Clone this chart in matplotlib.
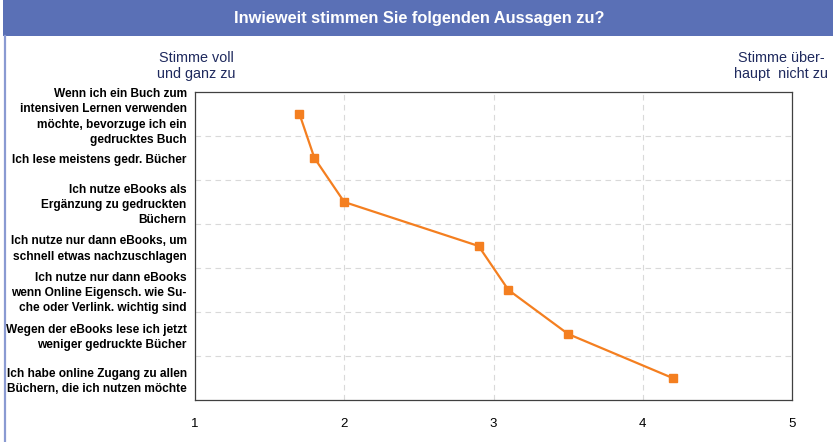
import matplotlib
matplotlib.use("Agg")
import matplotlib.pyplot as plt
from matplotlib.patches import Rectangle
from matplotlib.lines import Line2D

plt.rcParams['font.family'] = ['Liberation Sans', 'DejaVu Sans']

# statements (top to bottom) and mean answers
statements = [
    "Wenn ich ein Buch zum\nintensiven Lernen verwenden\nmöchte, bevorzuge ich ein\ngedrucktes Buch",
    "Ich lese meistens gedr. Bücher",
    "Ich nutze eBooks als\nErgänzung zu gedruckten\nBüchern",
    "Ich nutze nur dann eBooks, um\nschnell etwas nachzuschlagen",
    "Ich nutze nur dann eBooks\nwenn Online Eigensch. wie Su-\nche oder Verlink. wichtig sind",
    "Wegen der eBooks lese ich jetzt\nweniger gedruckte Bücher",
    "Ich habe online Zugang zu allen\nBüchern, die ich nutzen möchte",
]
means = [1.7, 1.8, 2.0, 2.9, 3.1, 3.5, 4.2]
x_ticks = [1, 2, 3, 4, 5]

W, H = 833, 442
fig = plt.figure(figsize=(W / 100, H / 100), dpi=100)

# title bar + left border
fig.patches.append(Rectangle((3 / W, 1 - 36 / H), 1, 36 / H, transform=fig.transFigure,
                             facecolor="#5a70b6", edgecolor="none", zorder=0))
fig.lines.append(Line2D([4.5 / W, 4.5 / W], [0, 1 - 36 / H], transform=fig.transFigure,
                        color="#8a9ad2", lw=1.6))
fig.text(419 / W, 1 - 18 / H, "Inwieweit stimmen Sie folgenden Aussagen zu?",
         color="white", fontsize=11.8, fontweight="bold", ha="center", va="center")

ax = fig.add_axes([195 / W, 1 - 400 / H, 597 / W, 308 / H])
ypos = list(range(len(statements)))
ax.plot(means, ypos, color="#f47f20", lw=1.6, marker="s", markersize=5.5, zorder=3,
        clip_on=False)

ax.set_xlim(1, 5)
ax.set_ylim(len(statements) - 0.5, -0.5)
ax.set_xticks(x_ticks)
ax.set_yticks(ypos)
ax.set_yticklabels(statements, fontweight="bold", fontsize=8.6, linespacing=1.36)
ax.set_yticks([i + 0.5 for i in range(len(statements) - 1)], minor=True)
ax.tick_params(axis="y", which="both", length=0, pad=6)
ax.tick_params(axis="x", length=0, pad=13, labelsize=9.5)

ax.grid(axis="x", which="major", color="#d9d9d9", ls=(0, (5, 4)), lw=0.8)
ax.grid(axis="y", which="minor", color="#d9d9d9", ls=(0, (5, 4)), lw=0.8)
ax.grid(axis="y", which="major", visible=False)
for s in ax.spines.values():
    s.set_color("#404040")
    s.set_linewidth(0.9)

navy = "#1f2a5e"
fig.text(196 / W, 1 - 66 / H, "Stimme voll\nund ganz zu", color=navy, fontsize=10.4,
         ha="center", va="center", linespacing=1.25)
fig.text(781 / W, 1 - 66 / H, "Stimme über-\nhaupt  nicht zu", color=navy, fontsize=10.4,
         ha="center", va="center", linespacing=1.25)

fig.savefig("out.png", dpi=100)
